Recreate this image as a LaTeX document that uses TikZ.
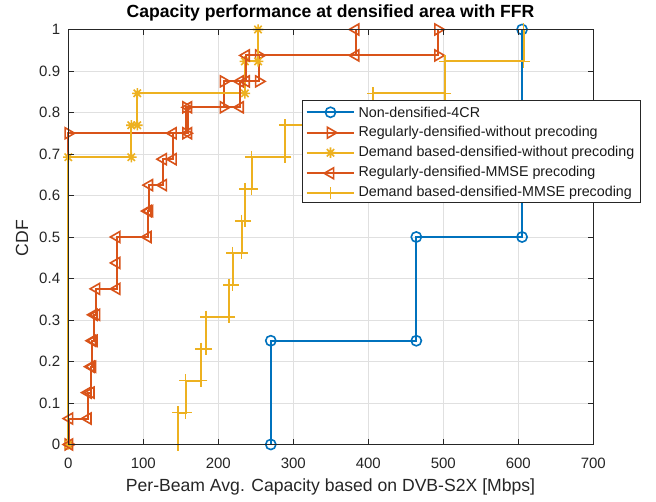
\documentclass[tikz,border=0pt]{standalone}
\usepackage{fontspec}
\setmainfont{Liberation Sans}
\usetikzlibrary{plotmarks}
\definecolor{cblue}{rgb}{0,0.447,0.741}
\definecolor{corange}{rgb}{0.85,0.325,0.098}
\definecolor{cyellow}{rgb}{0.929,0.694,0.125}
\definecolor{axgray}{gray}{0.15}
\definecolor{gridgray}{gray}{0.88}
\pgfdeclareplotmark{mstar}{%
  \pgfpathmoveto{\pgfqpoint{\pgfplotmarksize}{0pt}}\pgfpathlineto{\pgfqpoint{-\pgfplotmarksize}{0pt}}%
  \pgfpathmoveto{\pgfqpoint{0pt}{\pgfplotmarksize}}\pgfpathlineto{\pgfqpoint{0pt}{-\pgfplotmarksize}}%
  \pgfpathmoveto{\pgfqpoint{.707\pgfplotmarksize}{.707\pgfplotmarksize}}\pgfpathlineto{\pgfqpoint{-.707\pgfplotmarksize}{-.707\pgfplotmarksize}}%
  \pgfpathmoveto{\pgfqpoint{-.707\pgfplotmarksize}{.707\pgfplotmarksize}}\pgfpathlineto{\pgfqpoint{.707\pgfplotmarksize}{-.707\pgfplotmarksize}}%
  \pgfusepathqstroke}
\pgfdeclareplotmark{mplus}{%
  \pgfpathmoveto{\pgfqpoint{\pgfplotmarksize}{0pt}}\pgfpathlineto{\pgfqpoint{-\pgfplotmarksize}{0pt}}%
  \pgfpathmoveto{\pgfqpoint{0pt}{\pgfplotmarksize}}\pgfpathlineto{\pgfqpoint{0pt}{-\pgfplotmarksize}}%
  \pgfusepathqstroke}
\tikzset{
  series/.style={line width=2pt, line join=miter},
  sfourcr/.style={series, color=cblue, mark=o, mark size=5.1pt, mark options={solid, line width=1.6pt}},
  sregw/.style={series, color=corange, mark=triangle, mark size=6.3pt, mark options={solid, rotate=-90, line width=1.6pt}},
  sdemw/.style={series, color=cyellow, mark=mstar, mark size=5.2pt, mark options={solid, line width=1.6pt}},
  sregm/.style={series, color=corange, mark=triangle, mark size=6.3pt, mark options={solid, rotate=90, line width=1.6pt}},
  sdemm/.style={series, color=cyellow, mark=mplus, mark size=6.2pt, mark options={solid, line width=1.6pt}},
  gridline/.style={draw=gridgray, line width=0.6pt},
  axline/.style={draw=axgray, line width=0.8pt},
  ticklab/.style={font=\fontsize{15}{18}\selectfont, text=axgray, inner sep=0pt},
  leglab/.style={font=\fontsize{14.3}{17}\selectfont, text=black!90, inner sep=0pt, anchor=west},
  labtext/.style={font=\fontsize{17.6}{21}\selectfont, text=axgray, inner sep=0pt},
  titletext/.style={font=\fontsize{17.6}{21}\selectfont\bfseries, text=black, inner sep=0pt},
}
\begin{document}
\begin{tikzpicture}[x=1pt,y=1pt]
\useasboundingbox (0,0) rectangle (656,502);
\fill[white] (0,0) rectangle (656,502);
\begin{scope}[shift={(68.3,57.5)}, x=0.75pt, y=415pt]
  % grid
  \foreach \gx in {100,200,300,400,500,600} \draw[gridline] (\gx,0) -- (\gx,1);
  \foreach \gy in {0.1,0.2,0.3,0.4,0.5,0.6,0.7,0.8,0.9} \draw[gridline] (0,\gy) -- (700,\gy);
  % data
  \draw[sfourcr] plot coordinates {(270,0) (270,0.25) (464,0.25) (464,0.5) (605,0.5) (605,1)};
  \draw[sregw] plot coordinates {(0,0) (0,0.75) (157,0.75) (157,0.8125) (207,0.8125) (207,0.875) (254,0.875) (254,0.9375) (493,0.9375) (493,1)};
  \draw[sdemw] plot coordinates {(0,0) (0,0.6923) (84,0.6923) (84,0.7692) (92,0.7692) (92,0.8462) (235.5,0.8462) (235.5,0.9231) (253,0.9231) (253,1)};
  \draw[sregm] plot coordinates {(1.5,0) (1.5,0.0625) (26,0.0625) (26,0.125) (30,0.125) (30,0.1875) (32,0.1875) (32,0.25) (34,0.25) (34,0.3125) (37.5,0.3125) (37.5,0.375) (64.5,0.375) (64.5,0.4375) (64.5,0.5) (106,0.5) (106,0.5625) (108,0.5625) (108,0.625) (126.5,0.625) (126.5,0.6875) (139.5,0.6875) (139.5,0.75) (160,0.75) (160,0.8125) (229,0.8125) (229,0.875) (237,0.875) (237,0.9375) (383,0.9375) (383,1)};
  \draw[sdemm] plot coordinates {(146.5,0) (146.5,0.0769) (156.5,0.0769) (156.5,0.1538) (177,0.1538) (177,0.2308) (183.5,0.2308) (183.5,0.3077) (214,0.3077) (214,0.3846) (219,0.3846) (219,0.4615) (231,0.4615) (231,0.5385) (235.5,0.5385) (235.5,0.6154) (244.5,0.6154) (244.5,0.6923) (289,0.6923) (289,0.7692) (406,0.7692) (406,0.8462) (502,0.8462) (502,0.9231) (607,0.9231) (607,1)};
  % axes box and ticks
  \draw[axline] (0,0) rectangle (700,1);
  \foreach \gx in {0,100,200,300,400,500,600,700} {
    \draw[axline] (\gx,0) -- ++(0pt,5.5pt);
    \draw[axline] (\gx,1) -- ++(0pt,-5.5pt);
    \node[ticklab] at ([yshift=-18.5pt]\gx,0) {\gx};
  }
  \foreach \gy/\gt in {0/0,0.1/0.1,0.2/0.2,0.3/0.3,0.4/0.4,0.5/0.5,0.6/0.6,0.7/0.7,0.8/0.8,0.9/0.9,1/1} {
    \draw[axline] (0,\gy) -- ++(5.5pt,0pt);
    \draw[axline] (700,\gy) -- ++(-5.5pt,0pt);
    \node[ticklab, anchor=east] at ([xshift=-8pt]0,\gy) {\gt};
  }
\end{scope}
% labels
\node[titletext] (title) at (330.5,489) {Capacity performance at densified area with FFR};
\node[labtext] (xlab) at (330.5,15) {Per-Beam Avg. Capacity based on DVB-S2X [Mbps]};
\node[labtext, rotate=90] (ylab) at (22,264) {CDF};
% legend
\draw[fill=white, draw=axgray, line width=0.7pt] (302.3,402) rectangle (640,299.7);
\draw[sfourcr, mark indices={2}] plot coordinates {(306.7,389.7) (330.5,389.7) (354.3,389.7)};
\draw[sregw, mark indices={2}] plot coordinates {(306.7,369.3) (330.5,369.3) (354.3,369.3)};
\draw[sdemw, mark indices={2}] plot coordinates {(306.7,349.3) (330.5,349.3) (354.3,349.3)};
\draw[sregm, mark indices={2}] plot coordinates {(306.7,328.7) (330.5,328.7) (354.3,328.7)};
\draw[sdemm, mark indices={2}] plot coordinates {(306.7,308.7) (330.5,308.7) (354.3,308.7)};
\node[leglab] (l1) at (358.3,389.7) {Non-densified-4CR};
\node[leglab] (l2) at (358.3,369.3) {Regularly-densified-without precoding};
\node[leglab] (l3) at (358.3,349.3) {Demand based-densified-without precoding};
\node[leglab] (l4) at (358.3,328.7) {Regularly-densified-MMSE precoding};
\node[leglab] (l5) at (358.3,308.7) {Demand based-densified-MMSE precoding};
\end{tikzpicture}
\end{document}
